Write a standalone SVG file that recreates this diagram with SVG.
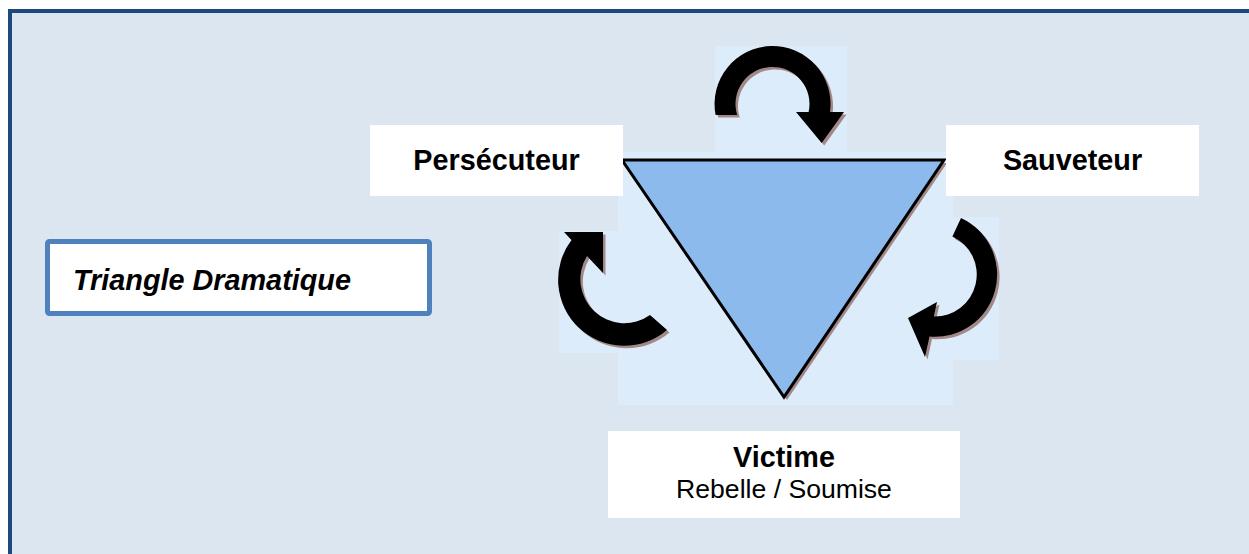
<svg xmlns="http://www.w3.org/2000/svg" width="1249" height="554" viewBox="0 0 1249 554">
<style>
.bold{font-family:"Liberation Sans",Arial,sans-serif;font-weight:bold;font-size:28.8px;fill:#000}
.reg{font-family:"Liberation Sans",Arial,sans-serif;font-size:26.6px;fill:#000}
.wbox{fill:#ffffff}
.panel{fill:#ddecfb}
.arrow{fill:#000}
.shadow{fill:#a38888}
</style>
<defs>
<path id="arrTop" d="M715.6,115 A58,58 0 1 1 830,112 L844,112 L821.7,143 L796,112 L808.6,112 A37,37 0 1 0 737.2,115 Z"/>
<path id="arrLeft" d="M650,315 L667,330 A66,66 0 0 1 571.5,240 L564,232 L603,232 L603,273 L587,256 A44,44 0 0 0 650,315 Z"/>
<path id="arrRight" d="M961,218 A62.3,62.3 0 0 1 929.5,336.6 L925,357 L908,318 L937,302 L933.8,316.5 A42,42 0 0 0 952.4,236.4 Z"/>
</defs>
<rect x="0" y="0" width="1249" height="554" fill="#ffffff"/>
<rect x="10" y="11" width="1260" height="560" fill="#dce6f1" stroke="#1f497d" stroke-width="4"/>
<g id="panels">
<rect class="panel" x="715" y="46" width="132" height="106"/>
<rect class="panel" x="618" y="152" width="335" height="253"/>
<rect class="panel" x="559" y="231" width="59" height="122"/>
<rect class="panel" x="953" y="217" width="46" height="143"/>
</g>
<g id="triangle">
<polygon points="625,163 947,163 787,400" fill="#a38888"/>
<polygon points="622,160 944,160 784,397" fill="#8dbaec" stroke="#000" stroke-width="3" stroke-linejoin="miter"/>
</g>
<g id="connectors">
<use href="#arrTop" class="shadow" transform="translate(2.5,2.5)"/>
<use href="#arrTop" class="arrow"/>
<use href="#arrLeft" class="shadow" transform="translate(2.5,2.5)"/>
<use href="#arrLeft" class="arrow"/>
<use href="#arrRight" class="shadow" transform="translate(2.5,2.5)"/>
<use href="#arrRight" class="arrow"/>
</g>
<g id="persecuteur">
<rect class="wbox" x="370" y="125" width="253" height="71"/>
<text class="bold" x="496.5" y="170" text-anchor="middle">Persécuteur</text>
</g>
<g id="sauveteur">
<rect class="wbox" x="946" y="125" width="253" height="71"/>
<text class="bold" x="1072.5" y="170" text-anchor="middle">Sauveteur</text>
</g>
<g id="victime">
<rect class="wbox" x="608" y="431" width="352" height="87"/>
<text class="bold" x="784" y="467" text-anchor="middle">Victime</text>
<text class="reg" x="784" y="498" text-anchor="middle">Rebelle / Soumise</text>
</g>
<g id="title">
<rect x="47.5" y="241.5" width="382" height="72" rx="2" fill="#ffffff" stroke="#4f81bd" stroke-width="5"/>
<text class="bold" x="73" y="290" font-style="italic" font-size="29">Triangle Dramatique</text>
</g>
</svg>
